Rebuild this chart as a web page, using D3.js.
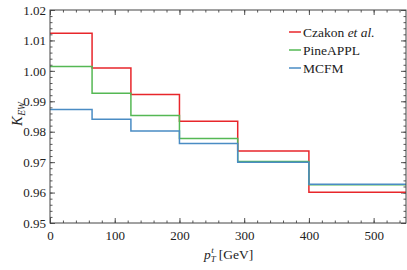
<!DOCTYPE html>
<html>
<head>
<meta charset="utf-8">
<script src="https://cdn.jsdelivr.net/npm/d3@7"></script>
<style>
body { margin: 0; background: #fff; }
.axis path { display: none; }
.axis line { stroke: #444; stroke-width: 0.9; }
</style>
</head>
<body>
<script>
//bin edges in pT (GeV)
var edges = [0, 65, 125, 200, 290, 400, 550];

//K_EW per bin for each calculation
var czakon   = [1.0124, 1.0009, 0.9922, 0.9834, 0.9737, 0.9601];
var pineappl = [1.0014, 0.9926, 0.9853, 0.9778, 0.9702, 0.9626];
var mcfm     = [0.9873, 0.9841, 0.9802, 0.9761, 0.9700, 0.9627];

var xTicks = [0, 100, 200, 300, 400, 500];
var yTicks = [0.95, 0.96, 0.97, 0.98, 0.99, 1.00, 1.01, 1.02];

var seriesNames = ["Czakon", "PineAPPL", "MCFM"];
var seriesColors = ["#e8262b", "#55b854", "#4a8cc4"];

var fontName = "Liberation Serif";

var width = 407,
    height = 270,
    margin = {top: 10, right: 1, bottom: 47, left: 50};

var svg = d3.select("body")
    .append("svg")
    .attr("width", width)
    .attr("height", height)
    .attr("font-family", fontName);

var x = d3.scaleLinear()
    .domain([0, 550])
    .range([margin.left, width - margin.right]);

var y = d3.scaleLinear()
    .domain([0.95, 1.02])
    .range([height - margin.bottom, margin.top]);

//minor ticks, inward on all four sides
var xMinor = d3.range(0, 551, 20);
var yMinor = d3.range(0, 36).map(function(i){ return 0.95 + i * 0.002; });

function styleAxis(g){
    g.attr("font-family", fontName).attr("font-size", 13);
    g.selectAll("text").attr("font-family", fontName).attr("fill", "#222");
}

svg.append("g").attr("class", "axis")
    .attr("transform", "translate(0," + y(0.95) + ")")
    .call(d3.axisBottom(x).tickValues(xMinor).tickSize(-2.5).tickFormat(""));
svg.append("g").attr("class", "axis")
    .attr("transform", "translate(0," + y(1.02) + ")")
    .call(d3.axisTop(x).tickValues(xMinor).tickSize(-2.5).tickFormat(""));
svg.append("g").attr("class", "axis")
    .attr("transform", "translate(" + x(0) + ",0)")
    .call(d3.axisLeft(y).tickValues(yMinor).tickSize(-2.5).tickFormat(""));
svg.append("g").attr("class", "axis")
    .attr("transform", "translate(" + x(550) + ",0)")
    .call(d3.axisRight(y).tickValues(yMinor).tickSize(-2.5).tickFormat(""));

//major ticks
svg.append("g").attr("class", "axis")
    .attr("transform", "translate(0," + y(0.95) + ")")
    .call(d3.axisBottom(x).tickValues(xTicks).tickSize(-5).tickPadding(8).tickFormat(d3.format("d")))
    .call(styleAxis);
svg.append("g").attr("class", "axis")
    .attr("transform", "translate(0," + y(1.02) + ")")
    .call(d3.axisTop(x).tickValues(xTicks).tickSize(-5).tickFormat(""));
svg.append("g").attr("class", "axis")
    .attr("transform", "translate(" + x(0) + ",0)")
    .call(d3.axisLeft(y).tickValues(yTicks).tickSize(-5).tickPadding(4).tickFormat(d3.format(".2f")))
    .call(styleAxis);
svg.append("g").attr("class", "axis")
    .attr("transform", "translate(" + x(550) + ",0)")
    .call(d3.axisRight(y).tickValues(yTicks).tickSize(-5).tickFormat(""));

//step lines
var line = d3.line()
    .x(function(d){ return x(d[0]); })
    .y(function(d){ return y(d[1]); })
    .curve(d3.curveStepAfter);

[czakon, pineappl, mcfm].forEach(function(vals, i){
    var pts = vals.map(function(v, j){ return [edges[j], v]; });
    pts.push([edges[edges.length - 1], vals[vals.length - 1]]);
    svg.append("path")
        .datum(pts)
        .attr("fill", "none")
        .attr("stroke", seriesColors[i])
        .attr("stroke-width", 1.5)
        .attr("d", line);
});

//frame
svg.append("rect")
    .attr("x", x(0)).attr("y", y(1.02))
    .attr("width", x(550) - x(0)).attr("height", y(0.95) - y(1.02))
    .attr("fill", "none").attr("stroke", "#444").attr("stroke-width", 1);

//legend
var legend = svg.append("g").attr("transform", "translate(289,32)");
seriesNames.forEach(function(name, i){
    var row = legend.append("g").attr("transform", "translate(0," + (i * 18) + ")");
    row.append("line")
        .attr("x1", 0).attr("x2", 12)
        .attr("stroke", seriesColors[i]).attr("stroke-width", 1.5);
    var t = row.append("text").attr("x", 14).attr("y", 4.5)
        .attr("font-family", fontName).attr("font-size", 13.5).attr("fill", "#222");
    t.append("tspan").text(name);
    if (i == 0) {
        t.append("tspan").text(" et al.").attr("font-style", "italic");
    }
});

//x label: p_T^t [GeV]
var xl = svg.append("text")
    .attr("x", 204).attr("y", 259)
    .attr("font-family", fontName).attr("font-size", 13.5).attr("fill", "#222");
xl.append("tspan").text("p").attr("font-style", "italic");
xl.append("tspan").attr("dy", -6).attr("dx", 0.5).text("t")
    .attr("font-style", "italic").attr("font-size", 9);
xl.append("tspan").attr("dy", 9).attr("dx", -3).text("T")
    .attr("font-style", "italic").attr("font-size", 9);
xl.append("tspan").attr("dy", -3).attr("dx", 3).text("[GeV]");

//y label: K_EW
var yl = svg.append("text")
    .attr("transform", "translate(22,126) rotate(-90)")
    .attr("font-family", fontName).attr("font-size", 14.5).attr("fill", "#222");
yl.append("tspan").text("K").attr("font-style", "italic");
yl.append("tspan").attr("dy", 3).attr("dx", 0.5).text("EW")
    .attr("font-style", "italic").attr("font-size", 9.5);
</script>
</body>
</html>
